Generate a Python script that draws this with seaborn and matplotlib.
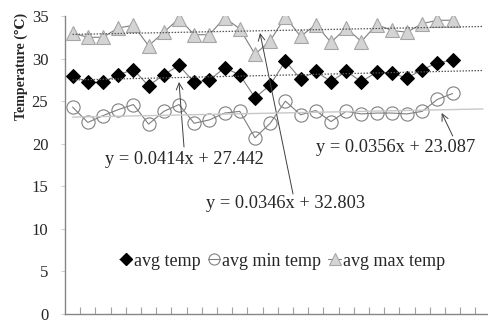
import matplotlib
matplotlib.use("Agg")
import matplotlib.pyplot as plt
from matplotlib.lines import Line2D
import numpy as np
import pandas as pd
import seaborn as sns

# Daily temperatures (°C), 26 days
avg_temp = [28.0, 27.2, 27.2, 28.1, 28.7, 26.8, 28.1, 29.2, 27.2, 27.5, 28.9, 28.1, 25.4,
            26.9, 29.7, 27.6, 28.5, 27.3, 28.5, 27.3, 28.4, 28.3, 27.7, 28.7, 29.5, 29.8]
min_temp = [24.3, 22.5, 23.3, 24.0, 24.6, 22.3, 23.8, 24.6, 22.4, 22.8, 23.6, 23.8, 20.7,
            22.4, 25.0, 23.4, 23.9, 22.6, 23.8, 23.5, 23.6, 23.6, 23.5, 23.8, 25.2, 25.9]
max_temp = [33.0, 32.5, 32.5, 33.6, 33.9, 31.5, 33.1, 34.7, 32.8, 32.8, 34.8, 33.5, 30.5,
            32.1, 34.9, 32.6, 34.0, 31.9, 33.6, 32.0, 34.0, 33.3, 33.1, 34.1, 34.5, 34.5]

series_names = ["avg temp", "avg min temp", "avg max temp"]

# Linear trend coefficients (slope, intercept), x counted from 1
trend_avg = (0.0414, 27.442)
trend_min = (0.0356, 23.087)
trend_max = (0.0346, 32.803)
yticks = [0, 5, 10, 15, 20, 25, 30, 35]

sns.set_theme(style="white")
plt.rcParams["font.family"] = ["Liberation Serif", "DejaVu Serif"]

H = 320  # figure height in pixels, used to place callouts from the top edge


def px(x, y_top):
    return (x, H - y_top)


day = np.arange(len(avg_temp))
df = pd.DataFrame({"day": day, "avg": avg_temp, "min": min_temp, "max": max_temp})

fig = plt.figure(figsize=(4.88, 3.2), dpi=100)
ax = fig.add_axes([0.1332, 0.01875, 0.8668, 0.93125])

line_col = "#7f7f7f"
sns.lineplot(data=df, x="day", y="max", ax=ax, color=line_col, lw=0.8,
             marker="^", markersize=10, markerfacecolor="#d4d4d4",
             markeredgecolor="#a6a6a6", markeredgewidth=0.8, zorder=3)
sns.lineplot(data=df, x="day", y="avg", ax=ax, color=line_col, lw=0.8,
             marker="D", markersize=7, markerfacecolor="black",
             markeredgecolor="black", zorder=3)
sns.lineplot(data=df, x="day", y="min", ax=ax, color=line_col, lw=0.8,
             marker="o", markersize=9.5, markerfacecolor="none",
             markeredgecolor="#808080", markeredgewidth=0.8, zorder=3)

# Trend lines with a two-period forward forecast
xt = np.arange(1, len(avg_temp) + 3)
ax.plot(xt - 1, trend_max[0] * xt + trend_max[1], color="#555555", lw=0.9,
        ls=(0, (1.2, 1.2)), zorder=4)
ax.plot(xt - 1, trend_avg[0] * xt + trend_avg[1], color="#555555", lw=0.9,
        ls=(0, (1.2, 1.2)), zorder=4)
ax.plot(xt - 1, trend_min[0] * xt + trend_min[1], color="#c8c8c8", lw=1.0, zorder=4)

ax.set_xlim(-0.5, 27.33)
ax.set_ylim(0, 35)
ax.set_yticks(yticks)
ax.set_yticklabels([str(v) for v in yticks], fontsize=12)
ax.set_xticks(np.arange(0.5, 27, 1))
ax.set_xticklabels([])
ax.set_xlabel("")
ax.set_ylabel("")
ax.tick_params(axis="x", direction="in", length=5, width=0.8, color="#a0a0a0", bottom=True)
ax.tick_params(axis="y", direction="out", length=3, width=0.8, color="#d0d0d0", left=True, pad=9)
for s in ["top", "right"]:
    ax.spines[s].set_visible(False)
for s in ["left", "bottom"]:
    ax.spines[s].set_color("#868686")
    ax.spines[s].set_linewidth(1.0)

fig.text(0.044, 1 - 66 / H, "Temperature (\u2103)", rotation=90, ha="center", va="center",
         fontsize=10, fontweight="bold")

arrow = dict(arrowstyle="->", color="#404040", lw=0.7, shrinkA=0, shrinkB=0)
ann_fs = 13.2
fig.text(184.5 / 488, 1 - 160 / H, "y = 0.0414x + 27.442", ha="center", va="center",
         fontsize=ann_fs)
ax.annotate("", xy=px(179, 82), xytext=px(184, 147), xycoords="figure pixels",
            textcoords="figure pixels", arrowprops=arrow)
fig.text(396 / 488, 1 - 148 / H, "y = 0.0356x + 23.087", ha="center", va="center",
         fontsize=ann_fs)
ax.annotate("", xy=px(441.7, 113), xytext=px(452.7, 136), xycoords="figure pixels",
            textcoords="figure pixels", arrowprops=arrow)
fig.text(286 / 488, 1 - 204 / H, "y = 0.0346x + 32.803", ha="center", va="center",
         fontsize=ann_fs)
ax.annotate("", xy=px(260, 33), xytext=px(293, 194), xycoords="figure pixels",
            textcoords="figure pixels", arrowprops=arrow)

handles = [
    Line2D([], [], color=line_col, lw=0.8, marker="D", markersize=6,
           markerfacecolor="black", markeredgecolor="black"),
    Line2D([], [], color=line_col, lw=0.8, marker="o", markersize=8,
           markerfacecolor="none", markeredgecolor="#808080", markeredgewidth=0.8),
    Line2D([], [], color=line_col, lw=0.8, marker="^", markersize=8,
           markerfacecolor="#d4d4d4", markeredgecolor="#a6a6a6", markeredgewidth=0.8),
]
fig.legend(handles, series_names, loc="center", bbox_to_anchor=(282 / 488, 1 - 261 / H),
           ncol=3, frameon=False, fontsize=13, handlelength=0.7, handletextpad=0.1,
           columnspacing=0.4)

fig.savefig("out.png", dpi=100)
